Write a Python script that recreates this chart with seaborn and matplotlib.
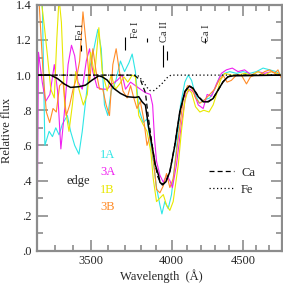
import numpy as np
import pandas as pd
import matplotlib
matplotlib.use("Agg")
import matplotlib.pyplot as plt
import matplotlib.ticker as mticker
import seaborn as sns

# observed spectra (wavelength in Angstrom, relative flux)
wave_1a = [3228, 3243, 3266, 3284, 3302, 3320, 3338, 3366, 3384, 3407, 3431, 3450, 3469, 3488,
           3513, 3540, 3560, 3579, 3599, 3619, 3645, 3675, 3700, 3727, 3747, 3767, 3788, 3815,
           3840, 3865, 3880, 3901, 3923, 3936, 3955, 3977, 3999, 4028, 4059, 4088, 4111, 4134,
           4156, 4186, 4225, 4260, 4295, 4331, 4367, 4403, 4452, 4501, 4552, 4602, 4653, 4704,
           4755, 4798]
flux_1a = [1.50, 0.60, 0.68, 0.65, 0.70, 0.66, 0.72, 0.77, 0.68, 0.60, 0.55, 0.68, 0.85, 1.02,
           1.13, 1.26, 1.15, 0.83, 0.77, 0.91, 0.96, 1.08, 1.02, 1.07, 1.12, 1.02, 0.81, 0.73,
           0.75, 0.60, 0.51, 0.36, 0.26, 0.21, 0.28, 0.24, 0.32, 0.55, 0.83, 0.96, 1.00, 0.97,
           0.90, 0.84, 0.86, 0.87, 0.92, 0.99, 1.01, 1.02, 1.01, 1.02, 1.01, 1.02, 1.04, 1.03,
           1.02, 1.00]

wave_3a = [3201, 3209, 3229, 3247, 3270, 3294, 3312, 3330, 3348, 3370, 3389, 3407, 3426, 3450,
           3473, 3492, 3511, 3536, 3566, 3595, 3625, 3655, 3686, 3706, 3737, 3767, 3798, 3830,
           3861, 3876, 3888, 3901, 3923, 3945, 3966, 3988, 4005, 4032, 4065, 4095, 4123, 4150,
           4180, 4214, 4242, 4273, 4308, 4343, 4379, 4422, 4464, 4513, 4564, 4614, 4665, 4717,
           4798]
flux_3a = [0.00, 1.13, 0.96, 0.85, 0.89, 1.06, 0.91, 0.58, 0.77, 1.06, 1.17, 1.11, 0.96, 0.92,
           1.08, 1.15, 1.02, 0.93, 0.92, 0.92, 0.95, 0.97, 1.00, 0.92, 0.96, 0.94, 0.92, 0.90,
           0.89, 0.83, 0.64, 0.51, 0.43, 0.39, 0.43, 0.40, 0.36, 0.49, 0.72, 0.89, 0.92, 0.90,
           0.83, 0.81, 0.89, 0.88, 0.95, 1.01, 1.03, 1.04, 1.02, 1.03, 1.00, 1.02, 1.01, 1.02,
           1.00]

wave_1b = [3221, 3239, 3257, 3275, 3294, 3308, 3320, 3333, 3351, 3375, 3394, 3413, 3431, 3456,
           3479, 3498, 3521, 3546, 3566, 3595, 3619, 3645, 3671, 3696, 3720, 3747, 3767, 3788,
           3815, 3840, 3865, 3880, 3901, 3923, 3945, 3966, 3988, 4010, 4044, 4065, 4088, 4111,
           4134, 4161, 4191, 4218, 4255, 4284, 4308, 4336, 4367, 4415, 4464, 4513, 4564, 4614,
           4665, 4717, 4798]
flux_1b = [1.45, 1.29, 1.11, 0.92, 0.87, 1.21, 1.44, 1.30, 0.83, 0.68, 0.83, 1.02, 0.92, 0.83,
           0.89, 1.13, 1.00, 1.27, 1.02, 0.91, 1.00, 0.92, 0.95, 0.99, 0.96, 1.00, 0.99, 0.77,
           0.72, 0.68, 0.56, 0.41, 0.28, 0.30, 0.32, 0.26, 0.23, 0.28, 0.49, 0.68, 0.85, 0.92,
           0.90, 0.82, 0.79, 0.80, 0.79, 0.83, 0.89, 0.97, 1.01, 1.00, 1.00, 1.01, 1.00, 1.02,
           1.00, 1.02, 1.00]

wave_3b = [3205, 3213, 3221, 3233, 3251, 3269, 3287, 3305, 3323, 3342, 3360, 3379, 3398, 3417,
           3435, 3454, 3473, 3492, 3511, 3530, 3550, 3569, 3589, 3609, 3629, 3649, 3669, 3690,
           3716, 3737, 3757, 3777, 3798, 3819, 3840, 3861, 3882, 3901, 3923, 3945, 3966, 3988,
           4010, 4044, 4077, 4106, 4134, 4161, 4191, 4225, 4260, 4295, 4326, 4355, 4384, 4415,
           4452, 4489, 4527, 4557, 4590, 4628, 4665, 4704, 4743, 4769, 4798]
flux_3b = [1.50, 1.40, 1.25, 1.02, 0.79, 0.73, 0.81, 0.79, 0.94, 0.96, 0.77, 0.83, 0.92, 0.98,
           1.08, 1.36, 1.17, 0.96, 1.15, 1.02, 0.92, 0.92, 0.83, 0.77, 1.06, 1.15, 1.02, 0.91,
           0.87, 0.94, 0.87, 0.81, 0.85, 0.75, 0.60, 0.66, 0.51, 0.35, 0.33, 0.37, 0.44, 0.36,
           0.41, 0.64, 0.86, 0.94, 0.93, 0.87, 0.84, 0.86, 0.89, 0.92, 0.97, 1.00, 0.96, 0.97,
           1.00, 1.00, 0.95, 0.99, 1.00, 1.00, 1.02, 1.03, 1.01, 1.03, 0.98]

# synthetic spectra
wave_model = [3200, 3275, 3312, 3348, 3384, 3431, 3469, 3507, 3546, 3566, 3595, 3635, 3675, 3716,
              3767, 3788, 3809, 3830, 3851, 3872, 3893, 3914, 3923, 3940, 3962, 3988, 4021, 4054,
              4088, 4118, 4145, 4180, 4214, 4250, 4284, 4319, 4355, 4391, 4429, 4800]
flux_model = [1.00, 1.00, 0.98, 0.95, 0.93, 0.934, 0.943, 0.972, 0.996, 0.99, 0.972, 0.924, 0.896,
              0.877, 0.873, 0.877, 0.848, 0.829, 0.70, 0.60, 0.49, 0.43, 0.39, 0.375, 0.393, 0.45,
              0.60, 0.79, 0.905, 0.937, 0.924, 0.877, 0.848, 0.848, 0.867, 0.915, 0.962, 0.991,
              0.996, 1.00]

wave_ca = [3200, 3760, 3800, 3830, 3850, 3870, 3890, 3910, 3930, 3945, 3965, 3990, 4020, 4055,
           4090, 4118, 4145, 4180, 4215, 4250, 4285, 4320, 4355, 4390, 4430, 4800]
flux_ca = [1.00, 1.00, 0.97, 0.90, 0.75, 0.62, 0.50, 0.42, 0.385, 0.38, 0.40, 0.46, 0.60, 0.79,
           0.91, 0.94, 0.925, 0.88, 0.85, 0.85, 0.87, 0.915, 0.962, 0.99, 1.00, 1.00]

wave_fe = [3200, 3780, 3810, 3840, 3860, 3885, 3910, 3940, 3970, 3995, 4800]
flux_fe = [1.00, 1.00, 0.97, 0.93, 0.912, 0.912, 0.93, 0.955, 0.985, 1.00, 1.00]

# line identifications
line_names = ["Fe I", "Fe I", "Ca II", "Ca I"]
line_text_wave = [3440, 3765, 3956, 4238]
line_text_flux = [1.245, 1.26, 1.25, 1.24]
mark_wave = [3440, 3705, 3841, 3941, 3966, 4226]
mark_lo = [1.14, 1.142, 1.19, 1.045, 1.085, 1.18]
mark_hi = [1.17, 1.215, 1.21, 1.17, 1.14, 1.21]

epochs = ["1A", "3A", "1B", "3B"]
colors = {"1A": "#2ee6e6", "3A": "#f020f0", "1B": "#e8e800", "3B": "#ff8c28"}

obs = pd.concat([
    pd.DataFrame({"wave": w, "flux": f, "epoch": e})
    for w, f, e in [(wave_1a, flux_1a, "1A"), (wave_3a, flux_3a, "3A"),
                    (wave_1b, flux_1b, "1B"), (wave_3b, flux_3b, "3B")]
])

sns.set_style("ticks")
plt.rcParams["font.family"] = ["Liberation Serif", "DejaVu Serif"]

fig = plt.figure(figsize=(2.83, 2.85), dpi=100)
ax = fig.add_axes([0.130, 0.120, 0.866, 0.863])

sns.lineplot(data=obs, x="wave", y="flux", hue="epoch", palette=colors, hue_order=epochs,
             estimator=None, sort=False, legend=False, lw=0.8, ax=ax)
ax.plot(wave_model, flux_model, color="black", lw=1.1)
ax.plot(wave_ca, flux_ca, color="black", lw=0.9, ls=(0, (4, 2.5)), label="Ca")
ax.plot(wave_fe, flux_fe, color="black", lw=0.9, ls=(0, (1, 2)), label="Fe")

for name, w, f in zip(line_names, line_text_wave, line_text_flux):
    ax.text(w, f, name, rotation=90, ha="center", va="center", fontsize=7.5)
ax.vlines(mark_wave, mark_lo, mark_hi, color="black", lw=0.8)

ty = [0.389, 0.32, 0.247, 0.178]
for e, y in zip(epochs, ty):
    ax.text(0.258, y, e, color=colors[e], transform=ax.transAxes, fontsize=9, va="center")
ax.text(0.123, 0.283, "edge", transform=ax.transAxes, fontsize=9, va="center")

ax.legend(loc="upper left", bbox_to_anchor=(0.655, 0.388), frameon=False, fontsize=9,
          handlelength=2.0, handletextpad=0.6, labelspacing=0.4)

ax.set_xscale("log")
ax.set_xlim(3200, 4800)
ax.set_ylim(0, 1.4)
ax.xaxis.set_major_locator(mticker.FixedLocator([3500, 4000, 4500]))
ax.xaxis.set_major_formatter(mticker.FixedFormatter(["3500", "4000", "4500"]))
ax.xaxis.set_minor_locator(mticker.FixedLocator(np.arange(3200, 4900, 100)))
ax.xaxis.set_minor_formatter(mticker.NullFormatter())
yt = np.arange(0, 1.41, 0.2)
ax.set_yticks(yt)
ax.set_yticklabels([".0", ".2", ".4", ".6", ".8", "1.0", "1.2", "1.4"])
ax.yaxis.set_minor_locator(mticker.MultipleLocator(0.1))

ax.tick_params(which="both", direction="in", top=True, right=True, color="#8c8c8c",
               labelsize=9, width=1.2, pad=4)
ax.tick_params(axis="x", pad=3)
ax.tick_params(which="major", length=8)
ax.tick_params(which="minor", length=4)
for s in ax.spines.values():
    s.set_color("#8c8c8c")
    s.set_linewidth(1.6)

ax.set_xlabel("Wavelength  (Å)", fontsize=9)
ax.set_ylabel("Relative flux", fontsize=9)
ax.xaxis.set_label_coords(0.51, -0.075)
ax.yaxis.set_label_coords(-0.098, 0.49)

fig.savefig("out.png", dpi=100)
